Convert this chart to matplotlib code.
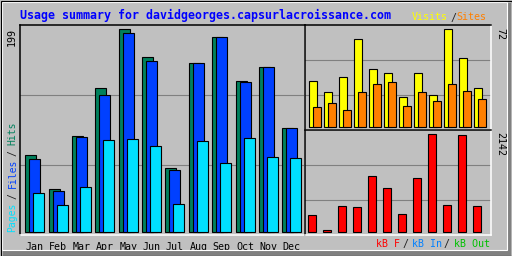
import numpy as np
import matplotlib
matplotlib.use("Agg")
from matplotlib import pyplot as plt
from matplotlib.patches import Rectangle
from matplotlib.transforms import Affine2D

# data
months = ["Jan", "Feb", "Mar", "Apr", "May", "Jun",
          "Jul", "Aug", "Sep", "Oct", "Nov", "Dec"]
hits = [75, 42, 94, 141, 199, 172, 63, 166, 191, 148, 162, 102]
files = [72, 40, 93, 134, 195, 168, 61, 166, 191, 147, 162, 102]
pages = [38, 26, 44, 90, 91, 84, 27, 89, 68, 92, 74, 73]
visits = [34, 26, 37, 65, 43, 40, 22, 40, 24, 72, 51, 29]
sites = [15, 18, 13, 26, 32, 33, 16, 26, 19, 32, 27, 21]
kbytes = [378, 44, 575, 553, 1231, 968, 400, 1187, 2142, 597, 2130, 575]

BG = "#c0c0c0"
HIT_C, FILE_C, PAGE_C = "#00805c", "#0040ff", "#00e0ff"
VISIT_C, SITE_C, KB_C = "#ffff00", "#ff8000", "#ff0000"
SLASH = "#202020"

W, H = 512, 256
plt.rcParams["font.family"] = "DejaVu Sans Mono"

fig = plt.figure(figsize=(W / 100, H / 100), dpi=100)
fig.patch.set_facecolor(BG)

# pixel coords with origin at top-left
pix = Affine2D().scale(1 / W, -1 / H).translate(0, 1) + fig.transFigure

# outer 3d frame
fig.add_artist(Rectangle((3, 250), 508, 6, transform=pix, color="#808080", lw=0))
fig.add_artist(Rectangle((507, 3), 4, 252, transform=pix, color="#808080", lw=0))
fig.add_artist(Rectangle((1.5, 1.5), 505, 248, transform=pix, fill=False,
                         edgecolor="white", lw=0.8))
fig.add_artist(Rectangle((0.5, 0.5), 511, 255, transform=pix, fill=False,
                         edgecolor="black", lw=0.8))


def panel(x0, y0, x1, y1):
    ax = fig.add_axes([x0 / W, 1 - y1 / H, (x1 - x0) / W, (y1 - y0) / H])
    ax.set_facecolor(BG)
    for side in ("top", "left"):
        ax.spines[side].set_color("black")
        ax.spines[side].set_linewidth(1.1)
    for side in ("bottom", "right"):
        ax.spines[side].set_color("white")
        ax.spines[side].set_linewidth(1.1)
    ax.tick_params(left=False, bottom=False, labelleft=False, labelbottom=False)
    ax.set_axisbelow(True)
    return ax


def grid_thirds(ax, lo, hi):
    ax.set_ylim(lo, hi)
    ax.set_yticks(np.linspace(lo, hi, 4)[1:3])
    ax.grid(axis="y", color="#808080", lw=0.8)


def pieces(parts, x, y, size, pitch, rotation=0):
    # parts: (text, colour, char offset); placed along a line, pitch in px
    for s, c, pos in parts:
        if rotation == 90:
            fig.text(x, y - pos * pitch, s, transform=pix, color=c, fontsize=size,
                     rotation=90, ha="center", va="bottom")
        else:
            fig.text(x + pos * pitch, y, s, transform=pix, color=c, fontsize=size,
                     ha="left", va="baseline")


x = np.arange(len(months))
edge = dict(edgecolor="black", linewidth=0.8)

# main panel: hits / files / pages
ax1 = panel(20, 25, 305, 235)
ax1.bar(x - 0.171, hits, 0.471, color=HIT_C, **edge)
ax1.bar(x, files, 0.471, color=FILE_C, **edge)
ax1.bar(x + 0.171, pages, 0.471, color=PAGE_C, **edge)
ax1.set_xlim(-0.634, 11.567)
grid_thirds(ax1, -2.94, 202.9)
ax1.set_xticks(x, months)
ax1.tick_params(labelbottom=True, pad=1.2, labelsize=7.2)

# visits / sites
ax2 = panel(305, 25, 491, 130)
ax2.bar(x - 0.133, visits, 0.489, color=VISIT_C, **edge)
ax2.bar(x + 0.133, sites, 0.489, color=SITE_C, **edge)
ax2.set_xlim(-0.667, 11.733)
grid_thirds(ax2, -1.98, 75.16)

# kbytes
ax3 = panel(305, 130, 491, 235)
ax3.bar(x, kbytes, 0.489, color=KB_C, **edge)
ax3.set_xlim(-0.467, 11.933)
grid_thirds(ax3, -59, 2236)

# texts
fig.text(20, 19, "Usage summary for davidgeorges.capsurlacroissance.com",
         transform=pix, color="#0000ff", fontsize=8.4, fontweight="bold",
         va="baseline")
pieces([("Visits", VISIT_C, 0), ("/", SLASH, 6), ("Sites", SITE_C, 7)],
       412, 20.5, 7.2, 6.4)
pieces([("kB F", KB_C, 0), ("/", SLASH, 4)], 376, 247, 7.2, 6.7)
pieces([("kB In", "#0080ff", 0)], 412, 247, 7.2, 6)
pieces([("/", SLASH, 0)], 443, 247, 7.2, 6)
pieces([("kB Out", "#00c000", 0)], 454, 247, 7.2, 6)
pieces([("Pages", PAGE_C, 0), ("/", SLASH, 6), ("Files", FILE_C, 8),
        ("/", SLASH, 14), ("Hits", HIT_C, 16)], 12.5, 232, 7.0, 5.45, rotation=90)

fig.text(12, 28, str(max(hits)), transform=pix, fontsize=7.2, rotation=90,
         ha="center", va="top")
fig.text(500, 28, str(max(visits)), transform=pix, fontsize=7.2, rotation=-90,
         ha="center", va="top")
fig.text(500, 131.5, str(max(kbytes)), transform=pix, fontsize=7.2, rotation=-90,
         ha="center", va="top")

fig.savefig("out.png", dpi=100, facecolor=BG)
